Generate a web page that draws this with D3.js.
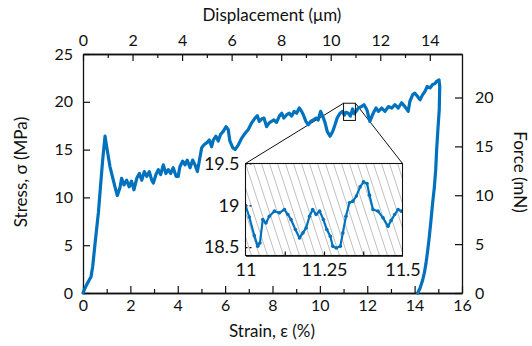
<!DOCTYPE html>
<html>
<head>
<meta charset="utf-8">
<script src="https://cdn.jsdelivr.net/npm/d3@7"></script>
<style>
  body { margin: 0; background: white; }
  svg { display: block; font-family: Lato, "Open Sans", sans-serif; }
</style>
</head>
<body>
<div id="chart"></div>
<script>
// stress-strain curve
const strain = [0, 0.05, 0.15, 0.25, 0.34, 0.41, 0.51, 0.65, 0.75, 0.83, 0.93, 1.0, 1.14, 1.35, 1.45, 1.56, 1.63, 1.73, 1.84, 1.95,
  2.05, 2.15, 2.27, 2.38, 2.48, 2.59, 2.69, 2.8, 2.9, 2.97, 3.08, 3.18, 3.28, 3.39, 3.5, 3.6, 3.7, 3.81, 3.93, 4.02,
  4.09, 4.21, 4.31, 4.4, 4.52, 4.63, 4.73, 4.83, 4.91, 5.01, 5.11, 5.22, 5.33, 5.43, 5.5, 5.61, 5.71, 5.81, 5.92, 6.04,
  6.13, 6.2, 6.32, 6.42, 6.56, 6.7, 6.84, 6.98, 7.12, 7.26, 7.36, 7.44, 7.54, 7.64, 7.75, 7.86, 7.96, 8.06, 8.17, 8.29,
  8.39, 8.48, 8.6, 8.71, 8.81, 8.91, 9.02, 9.13, 9.23, 9.3, 9.41, 9.51, 9.61, 9.72, 9.84, 9.93, 10.03, 10.12, 10.22, 10.31,
  10.43, 10.54, 10.64, 10.73, 10.85, 10.96, 11.03, 11.1, 11.2, 11.29, 11.38, 11.45, 11.5, 11.62, 11.76, 11.86, 11.98, 12.11, 12.25, 12.37,
  12.47, 12.61, 12.75, 12.89, 13.03, 13.17, 13.31, 13.45, 13.59, 13.73, 13.8, 13.92, 14.01, 14.11, 14.23, 14.34, 14.44, 14.53, 14.65, 14.76,
  14.86, 14.93, 15.03, 15.06, 15.04, 14.98, 14.93, 14.89, 14.83, 14.76, 14.69, 14.62, 14.55, 14.48, 14.41, 14.34, 14.22, 14.13];
const stress = [0, 0.3, 0.85, 1.3, 1.7, 2.8, 5.2, 8.4, 11.5, 13.9, 16.4, 15.3, 13.2, 11.1, 10.2, 11.0, 12.0, 11.3, 11.8, 11.1,
  11.7, 10.8, 12.0, 12.5, 11.8, 12.7, 12.2, 12.7, 11.8, 11.5, 12.4, 12.9, 12.4, 13.4, 12.5, 12.9, 12.5, 13.1, 12.2, 12.2,
  13.2, 13.8, 13.4, 13.9, 13.1, 13.9, 13.4, 12.7, 13.8, 15.2, 15.5, 15.7, 16.0, 15.3, 16.0, 16.4, 15.9, 16.6, 16.9, 17.4,
  17.1, 15.9, 15.2, 15.0, 15.5, 16.2, 16.7, 17.1, 17.8, 18.3, 18.55, 17.95, 18.2, 18.3, 17.4, 17.8, 17.95, 18.1, 17.85, 18.5,
  18.8, 18.3, 18.65, 18.8, 18.5, 19.0, 18.8, 19.35, 19.0, 18.65, 17.95, 17.6, 17.95, 18.1, 18.3, 18.1, 19.0, 18.5, 17.8, 16.9,
  16.4, 16.9, 17.6, 18.3, 18.8, 19.0, 18.6, 18.9, 18.8, 18.5, 19.25, 18.75, 18.9, 19.35, 19.5, 19.7, 19.2, 17.95, 18.8, 19.35,
  19.0, 19.35, 19.0, 19.5, 19.35, 19.7, 19.35, 19.9, 19.5, 19.0, 20.05, 20.75, 20.9, 20.6, 20.2, 20.75, 21.1, 21.6, 21.45, 21.8,
  21.9, 22.15, 22.3, 21.6, 19.2, 17.0, 15.0, 12.9, 11.0, 9.4, 7.6, 5.9, 4.4, 3.1, 2.1, 1.36, 0.45, 0];

// zoomed detail, 11 - 11.5 % strain
const insetStrain = [11.0, 11.012, 11.028, 11.039, 11.046, 11.055, 11.065, 11.076, 11.092, 11.108, 11.124, 11.135, 11.145, 11.159, 11.172,
  11.183, 11.193, 11.204, 11.214, 11.225, 11.236, 11.248, 11.259, 11.27, 11.278, 11.289, 11.302, 11.31, 11.32, 11.331,
  11.342, 11.353, 11.365, 11.376, 11.387, 11.395, 11.406, 11.422, 11.438, 11.454, 11.464, 11.475, 11.486, 11.496];
const insetStress = [19.0, 18.86, 18.64, 18.51, 18.55, 18.83, 18.79, 18.87, 18.93, 18.91, 18.95, 18.89, 18.83, 18.71, 18.61,
  18.67, 18.73, 18.87, 18.95, 18.89, 18.93, 18.83, 18.71, 18.63, 18.51, 18.49, 18.51, 18.67, 18.87, 19.03,
  19.05, 19.11, 19.22, 19.28, 19.26, 19.12, 18.95, 18.93, 18.85, 18.75, 18.82, 18.89, 18.95, 18.93];

const strainTicks = [0, 2, 4, 6, 8, 10, 12, 14, 16];
const dispTicks = [0, 2, 4, 6, 8, 10, 12, 14];
const stressTicks = [0, 5, 10, 15, 20, 25];
const forceTicks = [0, 5, 10, 15, 20];
const insetXTicks = [11, 11.25, 11.5];
const insetYTicks = [18.5, 19, 19.5];
const zoomBox = { x0: 11, x1: 11.5, y0: 18.05, y1: 19.85 };

const W = 532, H = 346;
const blue = "#0072bd";

const svg = d3.select("#chart").append("svg")
  .attr("width", W).attr("height", H);

const x = d3.scaleLinear().domain([0, 16]).range([83, 462]);
const y = d3.scaleLinear().domain([0, 25]).range([293, 54]);
const xTop = d3.scaleLinear().domain([0, 15.3]).range([83, 462]);
const yRight = d3.scaleLinear().domain([0, 24.45]).range([293, 54]);

function styleAxis(g, size) {
  g.attr("font-family", null).attr("font-size", null);
  g.selectAll("text").style("font-size", size + "px").attr("fill", "#111");
  g.selectAll("line").attr("stroke", "#111").attr("stroke-width", 1.2);
  g.select(".domain").attr("stroke", "#111").attr("stroke-width", 1.3);
}

// minor ticks
const odd = d => d3.range(1, d, 2);
svg.append("g").attr("transform", "translate(0,293)")
  .call(d3.axisBottom(x).tickValues(odd(16)).tickSize(-4).tickSizeOuter(0).tickFormat(""))
  .call(g => styleAxis(g, 16));
svg.append("g").attr("transform", "translate(0,54)")
  .call(d3.axisTop(xTop).tickValues(odd(15)).tickSize(-4).tickSizeOuter(0).tickFormat(""))
  .call(g => styleAxis(g, 16));

svg.append("g").attr("transform", "translate(0,293)")
  .call(d3.axisBottom(x).tickValues(strainTicks).tickSize(-7).tickSizeOuter(0).tickPadding(7))
  .call(g => styleAxis(g, 16));
svg.append("g").attr("transform", "translate(0,54)")
  .call(d3.axisTop(xTop).tickValues(dispTicks).tickSize(-7).tickSizeOuter(0).tickPadding(8))
  .call(g => styleAxis(g, 16));
svg.append("g").attr("transform", "translate(83,0)")
  .call(d3.axisLeft(y).tickValues(stressTicks).tickSize(-7).tickSizeOuter(0).tickPadding(10))
  .call(g => styleAxis(g, 16));
svg.append("g").attr("transform", "translate(462,0)")
  .call(d3.axisRight(yRight).tickValues(forceTicks).tickSize(-7).tickSizeOuter(0).tickPadding(13))
  .call(g => styleAxis(g, 16));

// axis titles
svg.append("text").attr("x", 272).attr("y", 21).attr("text-anchor", "middle")
  .style("font-size", "17px").attr("fill", "#111").text("Displacement (μm)");
svg.append("text").attr("x", 272).attr("y", 337).attr("text-anchor", "middle")
  .style("font-size", "17px").attr("fill", "#111").text("Strain, ε (%)");
svg.append("text").attr("transform", "translate(27,172) rotate(-90)").attr("text-anchor", "middle")
  .style("font-size", "17px").attr("fill", "#111").text("Stress, σ (MPa)");
svg.append("text").attr("transform", "translate(514,172) rotate(90)").attr("text-anchor", "middle")
  .style("font-size", "17px").attr("fill", "#111").text("Force (mN)");

// zoom box and connectors
const bx0 = x(zoomBox.x0), bx1 = x(zoomBox.x1), by0 = y(zoomBox.y1), by1 = y(zoomBox.y0);
const ix0 = 245.5, ix1 = 402.5, iy0 = 163.5, iy1 = 255.5;

svg.append("line").attr("x1", bx0).attr("y1", by0).attr("x2", ix0).attr("y2", iy0)
  .attr("stroke", "#111").attr("stroke-width", 1);
svg.append("line").attr("x1", bx1).attr("y1", by0).attr("x2", ix1).attr("y2", iy0)
  .attr("stroke", "#111").attr("stroke-width", 1);

// main curve
const pts = strain.map((s, i) => [s, stress[i]]);
svg.append("path").datum(pts)
  .attr("fill", "none").attr("stroke", blue).attr("stroke-width", 3.2)
  .attr("stroke-linejoin", "round").attr("stroke-linecap", "round")
  .attr("d", d3.line().x(d => x(d[0])).y(d => y(d[1])));

svg.append("rect").attr("x", bx0).attr("y", by0).attr("width", bx1 - bx0).attr("height", by1 - by0)
  .attr("fill", "none").attr("stroke", "#111").attr("stroke-width", 1);

// inset
const xi = d3.scaleLinear().domain([11, 11.5]).range([ix0, ix1]);
const yi = d3.scaleLinear().domain([18.4, 19.5]).range([iy1, iy0]);

svg.append("clipPath").attr("id", "insetClip")
  .append("rect").attr("x", ix0).attr("y", iy0).attr("width", ix1 - ix0).attr("height", iy1 - iy0);

const inset = svg.append("g");
inset.append("rect").attr("x", ix0).attr("y", iy0).attr("width", ix1 - ix0).attr("height", iy1 - iy0)
  .attr("fill", "white");
inset.append("g").attr("clip-path", "url(#insetClip)")
  .selectAll("line").data(d3.range(ix0 - 40, ix1 + 10, 8)).join("line")
  .attr("x1", d => d).attr("y1", iy0).attr("x2", d => d + 30).attr("y2", iy1)
  .attr("stroke", "#b0b0b0").attr("stroke-width", 0.8);

inset.append("g").attr("transform", `translate(0,${iy1})`)
  .call(d3.axisBottom(xi).tickValues([11.125, 11.25, 11.375]).tickSize(-4).tickSizeOuter(0).tickFormat(""))
  .call(g => styleAxis(g, 17));
inset.append("g").attr("transform", `translate(0,${iy1})`)
  .call(d3.axisBottom(xi).tickValues(insetXTicks).tickSize(0).tickSizeOuter(0).tickPadding(8)
    .tickFormat(d => String(d)))
  .call(g => styleAxis(g, 18))
  .call(g => g.select(".domain").remove());
inset.append("g").attr("transform", `translate(${ix0},0)`)
  .call(d3.axisLeft(yi).tickValues(insetYTicks).tickSize(-8).tickSizeOuter(0).tickPadding(6)
    .tickFormat(d => String(d)))
  .call(g => styleAxis(g, 18))
  .call(g => g.selectAll(".tick line").attr("stroke-dasharray", "2,2"))
  .call(g => g.select(".domain").remove());

const ipts = insetStrain.map((s, i) => [s, insetStress[i]]);
const ig = inset.append("g").attr("clip-path", "url(#insetClip)");
ig.append("path").datum(ipts)
  .attr("fill", "none").attr("stroke", blue).attr("stroke-width", 2.2)
  .attr("stroke-linejoin", "round")
  .attr("d", d3.line().x(d => xi(d[0])).y(d => yi(d[1])));
ig.selectAll("circle").data(ipts).join("circle")
  .attr("cx", d => xi(d[0])).attr("cy", d => yi(d[1])).attr("r", 1.8).attr("fill", blue);

inset.append("rect").attr("x", ix0).attr("y", iy0).attr("width", ix1 - ix0).attr("height", iy1 - iy0)
  .attr("fill", "none").attr("stroke", "#111").attr("stroke-width", 1.1);
</script>
</body>
</html>
